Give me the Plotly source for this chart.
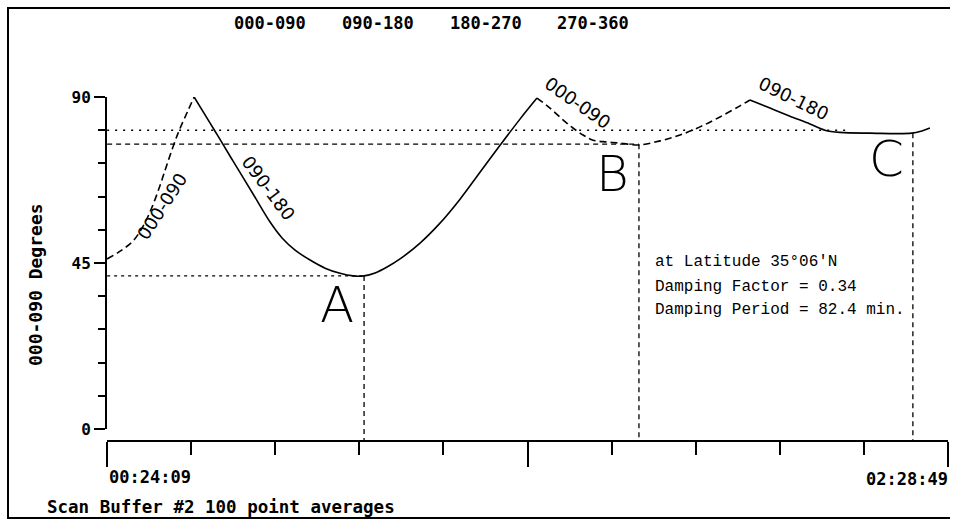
import plotly.graph_objects as go

# ---------------- data (minutes after 00:24:09, degrees) ----------------
start_label = "00:24:09"
end_label = "02:28:49"
span_min = 124.667          # 00:24:09 -> 02:28:49
n_intervals = 10

quadrant_labels = ["000-090", "090-180", "180-270", "270-360"]

# 000-090 (dashed) rising to first peak
seg1_t = [0, 1.93, 3.85, 5.34, 6.67, 7.86, 8.89, 10.52, 12.01, 12.90]
seg1_deg = [46.1, 48.2, 51.0, 55.0, 60.2, 66.1, 71.8, 80.2, 86.4, 90.0]

# 090-180 (solid) down to A, then up to second peak
seg2_t = [12.90, 15.27, 16.45, 18.68, 21.64, 24.16, 25.94, 27.87, 30.09, 32.32,
          34.54, 36.47, 38.10, 39.73, 41.51, 43.43, 46.40, 49.36, 52.33, 55.29,
          58.26, 61.22, 63.74]
seg2_deg = [90.0, 82.9, 79.4, 72.6, 63.7, 56.1, 51.8, 48.5, 45.8, 43.6,
            42.2, 41.5, 41.5, 42.3, 43.9, 46.1, 50.4, 55.8, 62.3, 69.6,
            76.9, 84.0, 89.7]

# 000-090 (dashed) down to B, then up to third peak
seg3_t = [63.74, 65.67, 67.59, 69.08, 70.57, 72.05, 74.13, 76.05, 78.86,
          81.98, 84.95, 87.91, 90.87, 93.84, 95.32]
seg3_deg = [89.7, 87.0, 83.8, 81.6, 79.7, 78.3, 77.8, 77.5, 77.0,
            78.1, 79.7, 81.9, 84.6, 87.6, 89.2]

# 090-180 (solid) down to C and beyond
seg4_t = [95.32, 98.29, 101.25, 104.22, 106.44, 108.66, 113.11, 119.33, 120.81, 122.0]
seg4_deg = [89.2, 87.0, 84.8, 82.7, 81.0, 80.4, 80.2, 80.2, 80.8, 81.6]

dotted_level = 81.0
dotted_end_t = 110.0

A_t, A_deg = 38.10, 41.5
B_t, B_deg = 78.86, 77.2
C_t, C_deg = 119.48, 80.2

note_lines = ["at Latitude 35\u00b006'N", "Damping Factor = 0.34",
              "Damping Period = 82.4 min."]
footer = "Scan Buffer #2 100 point averages"
y_title = "000-090 Degrees"

# ---------------- layout geometry ----------------
W, H = 954, 524
L, R, T, B = 107, 6, 97, 84
PW, PH = W - L - R, H - T - B
Y_MIN = -11 / ((H - B - T - 11) / 90.0)   # bottom of plot area below 0 deg


def px(xp):
    return (xp - L) / PW


def py(yp):
    return (H - B - yp) / PH


BLACK = "black"
MONO_B = dict(family="DejaVu Sans Mono", weight="bold", color=BLACK)

fig = go.Figure()


def curve(t, d, dash):
    fig.add_trace(go.Scatter(x=t, y=d, mode="lines",
                             line=dict(color=BLACK, width=1.6, dash=dash,
                                       shape="spline", smoothing=1.0),
                             hoverinfo="skip", showlegend=False))


curve(seg1_t, seg1_deg, "7px,4px")
curve(seg2_t, seg2_deg, "solid")
curve(seg3_t, seg3_deg, "7px,4px")
curve(seg4_t, seg4_deg, "solid")


def ref_line(x, y, dash, width=1.3):
    fig.add_trace(go.Scatter(x=x, y=y, mode="lines",
                             line=dict(color=BLACK, width=width, dash=dash),
                             hoverinfo="skip", showlegend=False))


ref_line([0, dotted_end_t], [dotted_level, dotted_level], "2px,6px", 1.5)
ref_line([0, B_t], [B_deg, B_deg], "5px,4px")
ref_line([0, A_t], [A_deg, A_deg], "3px,4px")
for tt, dd in [(A_t, A_deg), (B_t, B_deg), (C_t, C_deg)]:
    ref_line([tt, tt], [dd, Y_MIN], "5px,4px")

# invisible trace to carry the display y axis
fig.add_trace(go.Scatter(x=[None], y=[None], yaxis="y2", showlegend=False,
                         hoverinfo="skip"))

ann = []


def paper_text(text, xp, yp, size, xanchor="center", angle=0, font=None):
    f = dict(size=size, **(font or MONO_B))
    ann.append(dict(text=text, x=px(xp), y=py(yp), xref="paper", yref="paper",
                    xanchor=xanchor, yanchor="middle", textangle=angle,
                    showarrow=False, font=f))


# quadrant header
for lab, xc in zip(quadrant_labels, [270, 378, 486, 593]):
    paper_text(lab, xc, 23, 17)
# curve labels
for lab, xt, yd, ang in [("000-090", 8.15, 60.2, -57), ("090-180", 24.0, 65.3, 53),
                         ("000-090", 69.7, 88.4, 35), ("090-180", 101.8, 89.5, 26)]:
    ann.append(dict(text=lab, x=xt, y=yd, xref="x", yref="y", showarrow=False,
                    xanchor="center", yanchor="middle", textangle=ang,
                    font=dict(family="DejaVu Sans", size=18, color=BLACK)))
# point letters
for lab, xt, yd in [("A", 34.1, 33.6), ("B", 75.0, 69.1), ("C", 115.6, 73.2)]:
    ann.append(dict(text=lab, x=xt, y=yd, xref="x", yref="y", showarrow=False,
                    xanchor="center", yanchor="middle",
                    font=dict(family="DejaVu Sans", size=50, weight=200, color=BLACK)))
# note block
for lab, yd in zip(note_lines, [45.3, 38.5, 32.3]):
    ann.append(dict(text=lab, x=80.9, y=yd, xref="x", yref="y", xanchor="left",
                    yanchor="middle", showarrow=False,
                    font=dict(family="Liberation Mono", size=16, color=BLACK)))
# time labels, footer, y title
paper_text(start_label, 107, 477, 17, xanchor="left")
paper_text(end_label, 950, 479, 17, xanchor="right")
paper_text(footer, 45, 507, 17.5, xanchor="left")
paper_text(y_title, 35, 285, 18, angle=-90)

tick_step = span_min / n_intervals
minor_vals = [i * tick_step for i in range(n_intervals + 1)]
major_vals = [0, span_min / 2, span_min]

fig.update_layout(
    width=W, height=H, margin=dict(l=L, r=R, t=T, b=B),
    paper_bgcolor="white", plot_bgcolor="rgba(0,0,0,0)",
    annotations=ann,
    xaxis=dict(range=[-0.02, span_min + 0.02], showgrid=False, zeroline=False,
               showline=True, linecolor=BLACK, linewidth=2,
               ticks="outside", tickmode="array", tickvals=major_vals,
               ticklen=25, tickwidth=2, tickcolor=BLACK, showticklabels=False,
               minor=dict(tickmode="array", tickvals=minor_vals, ticks="outside",
                          ticklen=13, tickwidth=2, tickcolor=BLACK)),
    yaxis=dict(range=[Y_MIN, 90], domain=[0, 1], visible=False, fixedrange=True),
    yaxis2=dict(range=[0, 90], domain=[11 / PH, 1], anchor="x", side="left",
                showgrid=False, zeroline=False, showline=True, linecolor=BLACK,
                linewidth=2, ticks="outside", tickmode="array",
                tickvals=[0, 45, 90], ticktext=["0", "45", "90"],
                ticklen=11, tickwidth=2, tickcolor=BLACK,
                tickfont=dict(size=16, **MONO_B),
                minor=dict(tickmode="array", tickvals=list(range(0, 91, 9)),
                           ticks="outside", ticklen=7, tickwidth=2,
                           tickcolor=BLACK)),
    shapes=[dict(type="path", xref="paper", yref="paper",
                 path=f"M {px(950)},{py(8)} L {px(8)},{py(8)} L {px(8)},{py(518)} L {px(950)},{py(518)}",
                 line=dict(color=BLACK, width=2))],
)

fig.write_html("out.html", config={"displayModeBar": False},
               post_script="document.body.style.margin='0';"
                           "document.body.style.overflow='hidden';")
